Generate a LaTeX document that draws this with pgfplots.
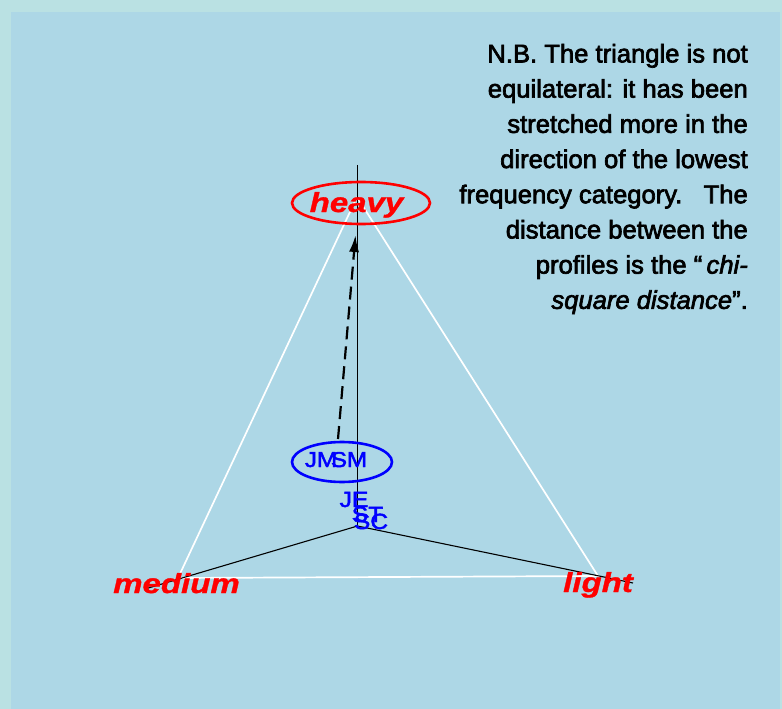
\documentclass[border=0pt]{standalone}
\usepackage{pgfplots}
\pgfplotsset{compat=1.18}
\usetikzlibrary{arrows.meta}
\usepackage{fontspec}
\setmainfont{Liberation Sans}
\newfontfamily\notefont{Liberation Sans}[FakeBold=2.6]
\newfontfamily\lblfont{Liberation Sans}[FakeBold=2.0]
\newfontfamily\redfont{Liberation Sans}[FakeBold=1.0]
\definecolor{outerbg}{RGB}{186,225,227}
\definecolor{innerbg}{RGB}{173,215,230}
\definecolor{lblue}{RGB}{0,0,255}
\definecolor{lred}{RGB}{255,0,0}
\newcommand{\lab}[5]{%
  \addplot[only marks, mark=text, text mark={#3}, text mark as node=true,
    text mark style={anchor=base, inner sep=0pt, #4, font=#5}]
    coordinates {(#1,#2)};}
\begin{document}
\begin{tikzpicture}
\begin{axis}[scale only axis, width=782bp, height=709bp,
  xmin=0, xmax=782, ymin=0, ymax=709, y dir=reverse,
  hide axis, clip=false]
% background
\addplot[fill=outerbg, draw=none] coordinates {(0,0) (782,0) (782,709) (0,709)};
\addplot[fill=innerbg, draw=none] coordinates {(11,12) (780,12) (780,709) (11,709)};
% labels
\lab{356.5}{212}{heavy}{text=lred, xscale=1.2}{\fontsize{27.5bp}{30bp}\redfont\bfseries\itshape}
\lab{176.5}{593}{medium}{text=lred, xscale=1.2}{\fontsize{27.5bp}{30bp}\redfont\bfseries\itshape}
\lab{598}{592}{light}{text=lred, xscale=1.2}{\fontsize{27.5bp}{30bp}\redfont\bfseries\itshape}
\lab{321}{467}{JM}{text=lblue, xscale=1.12}{\fontsize{21.5bp}{24bp}\lblfont}
\lab{349}{467}{SM}{text=lblue, xscale=1.12}{\fontsize{21.5bp}{24bp}\lblfont}
\lab{354}{507}{JE}{text=lblue, xscale=1.12}{\fontsize{22bp}{24bp}\lblfont}
\lab{367.5}{522}{ST}{text=lblue, xscale=1.12}{\fontsize{22bp}{24bp}\lblfont}
\lab{371}{529}{SC}{text=lblue, xscale=1.12}{\fontsize{22bp}{24bp}\lblfont}
% white triangle
\addplot[white, line width=1.7bp, mark=none] coordinates {(357,197) (178,578) (598,576) (357,197)};
% black lines
\addplot[black, line width=1.1bp, mark=none] coordinates {(357.5,165) (357.5,526)};
\addplot[black, line width=1.1bp, mark=none] coordinates {(145,589) (357.5,526) (633,583)};
% dashed arrow
\addplot[black, line width=2.2bp, mark=none, dash pattern=on 13bp off 7bp,
  -{Latex[length=17bp, width=10bp]}] coordinates {(338,439) (355.5,235)};
% ellipses
\addplot[only marks, mark=o, mark size=21bp,
  mark options={xscale=3.2857, line width=2.6bp, draw=lred, fill=none}] coordinates {(361,203)};
\addplot[only marks, mark=o, mark size=20bp,
  mark options={xscale=2.5, line width=2.6bp, draw=lblue, fill=none}] coordinates {(342,462)};
% note
\node[anchor=north east, align=right, inner sep=0pt,
  font=\fontsize{25.6bp}{35.2bp}\notefont] at (axis cs:748,43.7)
  {N.B. The triangle is not\\
   equilateral: it has been\\
   stretched more in the\\
   direction of the lowest\\
   frequency category.\ \ \ The\\
   distance between the\\
   profiles is the “\,\textit{chi-}\\
   \textit{square distance}”.};
\end{axis}
\end{tikzpicture}
\end{document}
